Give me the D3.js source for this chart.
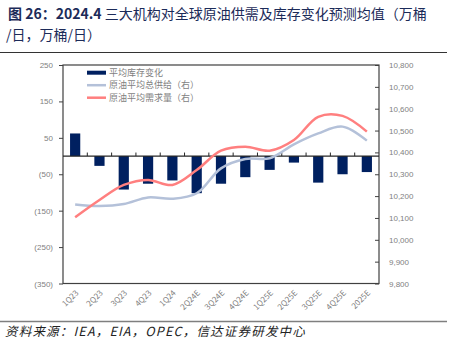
<!DOCTYPE html>
<html lang="zh">
<head>
<meta charset="UTF-8" />
<title>三大机构对全球原油供需及库存变化预测均值</title>
<script src="https://d3js.org/d3.v7.min.js"></script>
<style>
  body { margin: 0; background: #fff; }
  svg { display: block; font-family: "Noto Sans CJK SC", sans-serif; }
  .tick-l, .tick-r, .tick-x { font-size: 8px; fill: #7f7f7f; }
  .legend { font-size: 9px; fill: #7f7f7f; }
</style>
</head>
<body>
<div id="chart"></div>
<script>
const categories = ['1Q23','2Q23','3Q23','4Q23','1Q24','2Q24E','3Q24E','4Q24E','1Q25E','2Q25E','3Q25E','4Q25E','2025E'];
const stockChange = [62, -27, -92, -76, -67, -102, -76, -58, -38, -18, -73, -50, -44];
const supply = [10162, 10155, 10164, 10194, 10188, 10213, 10327, 10370, 10373, 10437, 10487, 10518, 10454];
const demand = [10103, 10182, 10251, 10274, 10251, 10319, 10408, 10426, 10408, 10457, 10563, 10567, 10495];
const leftTicks = [250, 150, 50, -50, -150, -250, -350];
const rightTicks = [10800, 10700, 10600, 10500, 10400, 10300, 10200, 10100, 10000, 9900, 9800];

const width = 457, height = 352;
const plot = { left: 63, right: 379, top: 65, bottom: 283.5 };

const svg = d3.select("#chart").append("svg")
  .attr("width", width).attr("height", height);

// title
const title = svg.append("text").attr("x", 8).attr("y", 19)
  .attr("font-size", 14).attr("fill", "#1c2b59");
title.append("tspan").attr("font-weight", "bold").text("图 26：2024.4 ");
title.append("tspan").text("三大机构对全球原油供需及库存变化预测均值（万桶");
svg.append("text").attr("x", 6).attr("y", 40)
  .attr("font-size", 14).attr("fill", "#1c2b59").text("/日，万桶/日）");
svg.append("line").attr("x1", 0).attr("x2", 447).attr("y1", 52.5).attr("y2", 52.5)
  .attr("stroke", "#333").attr("stroke-width", 1.2);

const x = d3.scaleBand().domain(categories).range([plot.left, plot.right]).paddingInner(0.58).paddingOuter(0.29);
const xb = d3.scaleBand().domain(categories).range([plot.left, plot.right]);
const yL = d3.scaleLinear().domain([-350, 250]).range([plot.bottom, plot.top]);
const yR = d3.scaleLinear().domain([9800, 10800]).range([plot.bottom, plot.top]);

// left axis labels
const fmtL = v => v < 0 ? `(${Math.abs(v)})` : `${v}`;
svg.append("g").attr("transform", `translate(${plot.left},0)`)
  .call(d3.axisLeft(yL).tickValues(leftTicks).tickSize(4).tickPadding(6).tickFormat(fmtL))
  .call(g => g.select(".domain").remove())
  .call(g => g.selectAll("line").attr("stroke", "#404040"))
  .call(g => g.selectAll("text").attr("class", "tick-l").attr("font-family", null).attr("font-size", null)
    .attr("fill", d => d < 0 ? "#ff0000" : "#7f7f7f"));

// right axis
svg.append("g").attr("transform", `translate(${plot.right},0)`)
  .call(d3.axisRight(yR).tickValues(rightTicks).tickSizeInner(-4).tickSizeOuter(0).tickPadding(10)
    .tickFormat(d3.format(",")))
  .call(g => g.select(".domain").remove())
  .call(g => g.selectAll("line").attr("stroke", "#404040"))
  .call(g => g.selectAll("text").attr("class", "tick-r").attr("font-family", null).attr("font-size", null).attr("fill", "#7f7f7f"));

// frame
svg.append("rect").attr("x", plot.left).attr("y", plot.top)
  .attr("width", plot.right - plot.left).attr("height", plot.bottom - plot.top)
  .attr("fill", "none").attr("stroke", "#404040").attr("stroke-width", 1.2);

// bars
svg.append("g").selectAll("rect").data(stockChange).join("rect")
  .attr("x", (d, i) => x(categories[i]))
  .attr("width", x.bandwidth())
  .attr("y", d => yL(Math.max(0, d)))
  .attr("height", d => Math.abs(yL(d) - yL(0)))
  .attr("fill", "#002060");

// zero line + category ticks
svg.append("line").attr("x1", plot.left).attr("x2", plot.right)
  .attr("y1", yL(0)).attr("y2", yL(0)).attr("stroke", "#262626").attr("stroke-width", 1.2);
svg.append("g").selectAll("line").data(categories.slice(1)).join("line")
  .attr("x1", d => xb(d)).attr("x2", d => xb(d))
  .attr("y1", yL(0)).attr("y2", yL(0) - 3.5)
  .attr("stroke", "#262626");

// lines
const cx = i => xb(categories[i]) + xb.bandwidth() / 2;
const lineR = d3.line().x((d, i) => cx(i)).y(d => yR(d)).curve(d3.curveCatmullRom.alpha(0.5));
svg.append("path").attr("d", lineR(supply)).attr("fill", "none")
  .attr("stroke", "#b4c1d9").attr("stroke-width", 2.5);
svg.append("path").attr("d", lineR(demand)).attr("fill", "none")
  .attr("stroke", "#ff7f7f").attr("stroke-width", 2.5);

// x labels
svg.append("g").selectAll("text").data(categories).join("text")
  .attr("class", "tick-x")
  .attr("text-anchor", "end")
  .attr("transform", (d, i) => `translate(${cx(i) + 4},${plot.bottom + 10}) rotate(-45)`)
  .text(d => d);

// legend
const legend = [
  { name: "平均库存变化", color: "#002060", w: 4 },
  { name: "原油平均总供给（右）", color: "#b4c1d9", w: 2.5 },
  { name: "原油平均需求量（右）", color: "#ff7f7f", w: 2.5 }
];
const lg = svg.append("g").selectAll("g").data(legend).join("g")
  .attr("transform", (d, i) => `translate(87,${72.7 + i * 12.5})`);
lg.append("line").attr("x1", 0).attr("x2", 19).attr("stroke", d => d.color).attr("stroke-width", d => d.w);
lg.append("text").attr("class", "legend").attr("x", 22).attr("dy", "0.35em").text(d => d.name);

// source
svg.append("line").attr("x1", 0).attr("x2", 447).attr("y1", 321.5).attr("y2", 321.5)
  .attr("stroke", "#7f7f7f").attr("stroke-width", 1.5);
svg.append("text").attr("x", 5).attr("y", 336).attr("font-size", 12.5).attr("font-style", "italic")
  .attr("letter-spacing", 1.2).attr("fill", "#222").text("资料来源：IEA，EIA，OPEC，信达证券研发中心");
</script>
</body>
</html>
